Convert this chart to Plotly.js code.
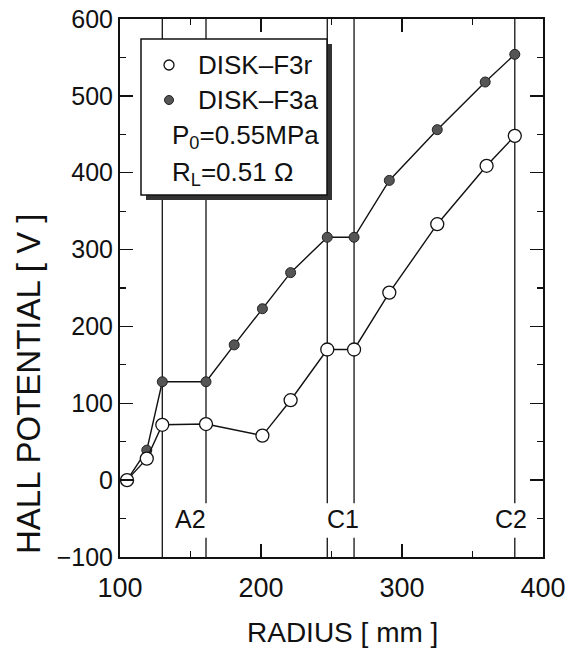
<!DOCTYPE html>
<html>
<head>
<meta charset="utf-8">
<script src="https://cdn.plot.ly/plotly-3.0.1.min.js"></script>
<style>html,body{margin:0;padding:0;background:#fff;}</style>
</head>
<body>
<div id="chart" style="width:573px;height:657px;"></div>
<script>
// ---- data ----
const radiusF3r = [105, 119, 130, 161, 201, 221, 247, 266, 291, 325, 360, 380];
const hallF3r   = [0, 28, 72, 73, 58, 104, 170, 170, 244, 333, 409, 448];
const radiusF3a = [105, 119, 130, 161, 181, 201, 221, 247, 266, 291, 325, 359, 380];
const hallF3a   = [0, 39, 128, 128, 176, 223, 270, 316, 316, 390, 456, 518, 554];
const fullLines = [130];
const gapLines  = [161, 247, 266, 380];
const regionLabels = ['A2', 'C1', 'C2'];
const regionLabelX = [150, 258, 377];
const legendNames = ['DISK–F3r', 'DISK–F3a'];
const conditionText = ['P<sub>0</sub>=0.55MPa', 'R<sub>L</sub>=0.51 Ω'];

// ---- layout helpers (pixel -> paper) ----
const L = 120, R = 543, T = 19, B = 557;
const px = v => (v - L) / (R - L);
const py = v => (B - v) / (B - T);
const FONT = 'Liberation Sans, Arial, Helvetica, sans-serif';

const traces = [
  {x: radiusF3a, y: hallF3a, mode: 'lines+markers', name: legendNames[1],
   line: {color: '#111', width: 1.4},
   marker: {symbol: 'circle', size: 10, color: '#555', line: {color: '#222', width: 1}}},
  {x: radiusF3r, y: hallF3r, mode: 'lines+markers', name: legendNames[0],
   line: {color: '#111', width: 1.4},
   marker: {symbol: 'circle', size: 13, color: '#fff', line: {color: '#111', width: 1.3}}}
];

const shapes = [];
fullLines.forEach(r => shapes.push({type: 'line', xref: 'x', yref: 'y', x0: r, x1: r, y0: -100, y1: 600,
  line: {color: '#111', width: 1.3}, layer: 'below'}));
gapLines.forEach(r => {
  shapes.push({type: 'line', xref: 'x', yref: 'y', x0: r, x1: r, y0: -30, y1: 600, line: {color: '#111', width: 1.3}, layer: 'below'});
  shapes.push({type: 'line', xref: 'x', yref: 'y', x0: r, x1: r, y0: -100, y1: -75, line: {color: '#111', width: 1.3}, layer: 'below'});
});
// legend box with shadow
shapes.push({type: 'rect', xref: 'paper', yref: 'paper', x0: px(146), x1: px(332), y0: py(200), y1: py(44),
  fillcolor: '#333', line: {width: 0}, layer: 'above'});
shapes.push({type: 'rect', xref: 'paper', yref: 'paper', x0: px(141), x1: px(327), y0: py(195), y1: py(39),
  fillcolor: '#fff', line: {color: '#111', width: 1.5}, layer: 'above'});
// legend markers
shapes.push({type: 'circle', xref: 'paper', yref: 'paper', x0: px(164), x1: px(174), y0: py(70), y1: py(60),
  fillcolor: '#fff', line: {color: '#111', width: 1.3}, layer: 'above'});
shapes.push({type: 'circle', xref: 'paper', yref: 'paper', x0: px(164.5), x1: px(173.5), y0: py(104.5), y1: py(95.5),
  fillcolor: '#555', line: {color: '#222', width: 1}, layer: 'above'});

const annotations = [];
legendNames.forEach((t, i) => annotations.push({xref: 'paper', yref: 'paper', x: px(196), y: py(65 + 35 * i),
  xanchor: 'left', yanchor: 'middle', text: t, showarrow: false, font: {family: FONT, size: 26, color: '#111'}}));
conditionText.forEach((t, i) => annotations.push({xref: 'paper', yref: 'paper', x: px(170), y: py(136 + 37 * i),
  xanchor: 'left', yanchor: 'middle', text: t, showarrow: false, font: {family: FONT, size: 26, color: '#111'}}));
regionLabels.forEach((t, i) => annotations.push({xref: 'x', yref: 'y', x: regionLabelX[i], y: -51,
  xanchor: 'center', yanchor: 'middle', text: t, showarrow: false, font: {family: FONT, size: 25, color: '#111'}}));
// axis titles
annotations.push({xref: 'paper', yref: 'paper', x: px(342), y: py(632), xanchor: 'center', yanchor: 'middle',
  text: 'RADIUS [ mm ]', showarrow: false, font: {family: FONT, size: 28, color: '#111'}});
annotations.push({xref: 'paper', yref: 'paper', x: px(28), y: py(384), xanchor: 'center', yanchor: 'middle',
  text: 'HALL POTENTIAL [ V ]', textangle: -90, showarrow: false, font: {family: FONT, size: 33, color: '#111'}});

const layout = {
  width: 573, height: 657,
  margin: {l: L, r: 573 - R, t: T, b: 657 - B},
  paper_bgcolor: '#fff', plot_bgcolor: '#fff',
  showlegend: false,
  font: {family: FONT, color: '#111'},
  xaxis: {range: [100, 400], dtick: 100, tick0: 100, showgrid: false, zeroline: false,
    showline: true, linecolor: '#111', linewidth: 2, mirror: 'ticks',
    ticks: 'inside', ticklen: 13, tickwidth: 1.3, tickcolor: '#111',
    minor: {dtick: 50, ticks: 'inside', ticklen: 6, tickwidth: 1.2, tickcolor: '#111'},
    tickfont: {family: FONT, size: 27, color: '#111'}, ticklabelstandoff: 6},
  yaxis: {range: [-100, 600], dtick: 100, tick0: 0, showgrid: false, zeroline: false,
    showline: true, linecolor: '#111', linewidth: 2, mirror: 'ticks',
    ticks: 'inside', ticklen: 13, tickwidth: 1.3, tickcolor: '#111',
    minor: {dtick: 50, ticks: 'inside', ticklen: 6, tickwidth: 1.2, tickcolor: '#111'},
    tickfont: {family: FONT, size: 25, color: '#111'}},
  shapes: shapes,
  annotations: annotations
};

Plotly.newPlot('chart', traces, layout, {displayModeBar: false, staticPlot: true});
</script>
</body>
</html>
